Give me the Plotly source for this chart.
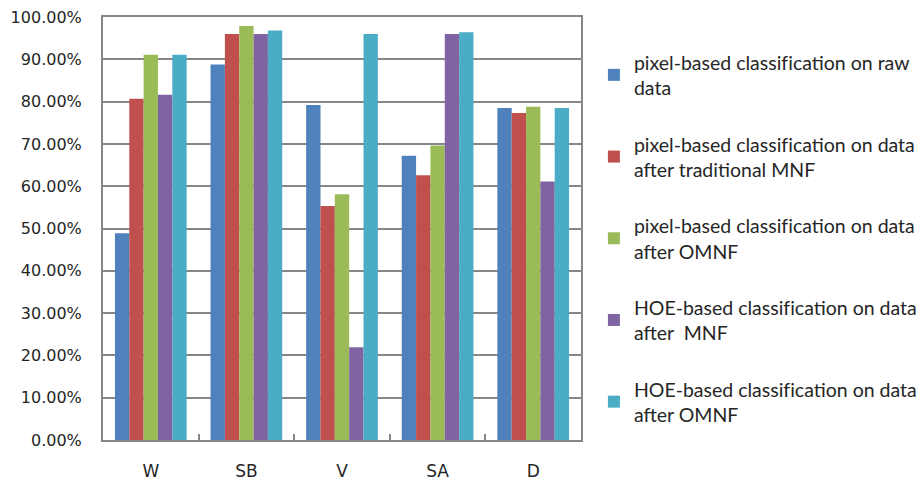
import plotly.graph_objects as go

categories = ["W", "SB", "V", "SA", "D"]

# a zero-width non-joiner keeps "f" and "i" apart (no "fi" ligature)
CLS = "classif\u200cication"
series_names = [
    f"pixel-based {CLS} on raw<br>data",
    f"pixel-based {CLS} on data<br>after traditional MNF",
    f"pixel-based {CLS} on data<br>after OMNF",
    f"HOE-based {CLS} on data<br>after  MNF",
    f"HOE-based {CLS} on data<br>after OMNF",
]

pixel_raw = [0.489, 0.888, 0.792, 0.672, 0.785]
pixel_mnf = [0.807, 0.960, 0.553, 0.626, 0.773]
pixel_omnf = [0.911, 0.979, 0.581, 0.696, 0.788]
hoe_mnf = [0.816, 0.960, 0.219, 0.960, 0.611]
hoe_omnf = [0.911, 0.968, 0.960, 0.964, 0.785]

series_values = [pixel_raw, pixel_mnf, pixel_omnf, hoe_mnf, hoe_omnf]
colors = ["#4F81BD", "#C0504D", "#9BBB59", "#8064A2", "#4BACC6"]

fig = go.Figure()
for i, (name, vals, col) in enumerate(zip(series_names, series_values, colors)):
    fig.add_trace(go.Bar(
        x=categories, y=vals, name=name,
        marker=dict(color=col, line=dict(width=0)),
        legendgroup=f"g{i}",
    ))

axis_gray = "#868686"

fig.update_layout(
    width=922, height=480,
    margin=dict(l=103, r=341, t=17, b=40, autoexpand=False),
    paper_bgcolor="white", plot_bgcolor="white",
    barmode="group", bargap=0.25, bargroupgap=0,
    font=dict(family="DejaVu Sans", size=16, color="#262626"),
    showlegend=True,
    legend=dict(
        x=1.027, y=0.9385, xanchor="left", yanchor="top",
        traceorder="grouped", tracegroupgap=28,
        font=dict(family="Lato", size=19.5, color="#262626"),
        itemwidth=30, bgcolor="rgba(0,0,0,0)",
    ),
    xaxis=dict(
        showgrid=False, showline=True, linecolor=axis_gray, linewidth=2,
        mirror=True, ticks="inside", ticklen=6, tickcolor=axis_gray,
        tickwidth=2, tickson="boundaries", ticklabelstandoff=15,
        tickfont=dict(size=17),
    ),
    yaxis=dict(
        range=[0, 1], dtick=0.1, tickformat=".2%",
        showgrid=True, gridcolor=axis_gray, gridwidth=2,
        showline=True, linecolor=axis_gray, linewidth=2, mirror=True,
        zeroline=False, ticks="", ticklabelstandoff=16,
    ),
)

fig.write_html("out.html")
